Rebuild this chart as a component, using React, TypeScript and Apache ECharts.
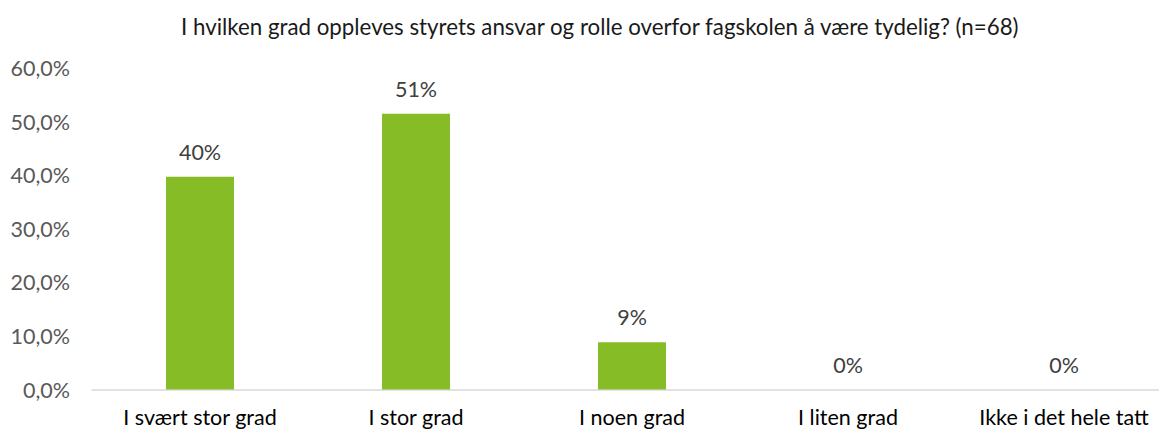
import React, { useEffect, useRef } from "react";
import * as echarts from "echarts";

const title = "I hvilken grad oppleves styrets ansvar og rolle overfor fagskolen å være tydelig? (n=68)";
const categories = ["I svært stor grad", "I stor grad", "I noen grad", "I liten grad", "Ikke i det hele tatt"];
const values = [39.71, 51.47, 8.82, 0, 0];
const yTicks = { min: 0, max: 60, interval: 10 };

const FONT = "Lato, 'Open Sans', sans-serif";

export default function App() {
  const ref = useRef<HTMLDivElement>(null);
  useEffect(() => {
    if (!ref.current) return;
    const chart = echarts.init(ref.current, undefined, { renderer: "svg" });
    chart.setOption({
      animation: false,
      backgroundColor: "#ffffff",
      title: {
        text: title,
        left: 176,
        top: 10,
        textStyle: { fontFamily: FONT, fontSize: 22.3, fontWeight: "normal", color: "#1a1a1a" },
      },
      grid: { left: 92, width: 1080, top: 68, height: 321.5, containLabel: false, outerBoundsMode: "none" },
      xAxis: {
        type: "category",
        data: categories,
        axisLine: { show: true, lineStyle: { color: "#d9d9d9", width: 1.5 } },
        axisTick: { show: false },
        axisLabel: { fontFamily: FONT, fontSize: 21.5, color: "#000000", margin: 16, interval: 0 },
      },
      yAxis: {
        type: "value",
        min: yTicks.min,
        max: yTicks.max,
        interval: yTicks.interval,
        splitLine: { show: false },
        axisLine: { show: false },
        axisTick: { show: false },
        axisLabel: {
          fontFamily: FONT,
          fontSize: 21.5,
          color: "#595959",
          margin: 22,
          formatter: (v: number) => v.toFixed(1).replace(".", ",") + "%",
        },
      },
      series: [
        {
          type: "bar",
          data: values,
          barWidth: 68,
          itemStyle: { color: "#86bc25" },
          label: {
            show: true,
            position: "top",
            distance: 14,
            fontFamily: FONT,
            fontSize: 21.5,
            color: "#404040",
            formatter: (p: any) => Math.round(p.value) + "%",
          },
        },
      ],
    });
    return () => chart.dispose();
  }, []);
  return <div ref={ref} style={{ position: "fixed", left: 0, top: 0, width: 1159, height: 432 }} />;
}
